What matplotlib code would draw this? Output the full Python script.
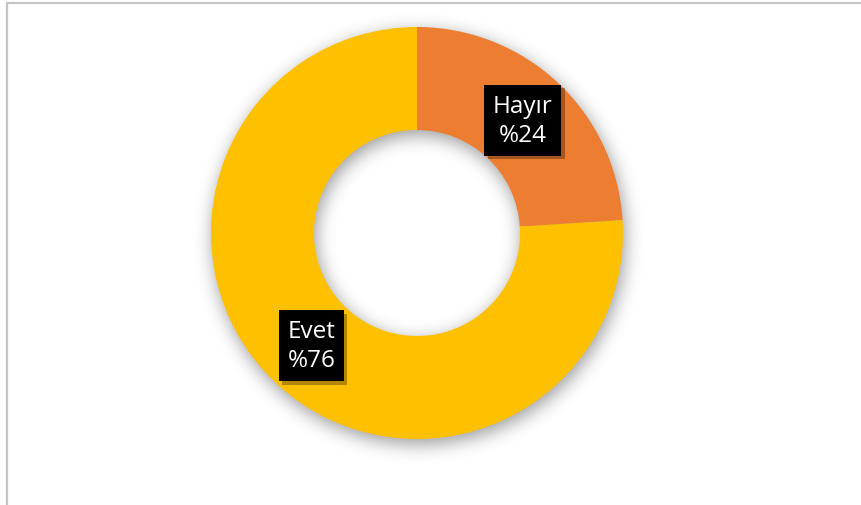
import numpy as np
import matplotlib
matplotlib.use("Agg")
import matplotlib.pyplot as plt
from matplotlib import patheffects

# ---- data ----
labels = ["Hayır", "Evet"]
values = [24, 76]
colors = ["#ED7D31", "#FFC000"]

W, H = 862, 506
cx, cy_img = 417, 234
r_out, r_in = 206, 103

fig = plt.figure(figsize=(W / 100, H / 100), dpi=100)
ax = fig.add_axes([0, 0, 1, 1])
ax.set_xlim(0, W)
ax.set_ylim(0, H)
ax.axis("off")

# ---- soft shadow under the ring ----
def blur(img, sigma):
    k = int(3 * sigma)
    xs = np.arange(-k, k + 1)
    g = np.exp(-xs ** 2 / (2 * sigma ** 2))
    g /= g.sum()
    img = np.apply_along_axis(lambda m: np.convolve(m, g, mode="same"), 0, img)
    img = np.apply_along_axis(lambda m: np.convolve(m, g, mode="same"), 1, img)
    return img

yy, xx = np.mgrid[0:H, 0:W] + 0.5
d = np.hypot(xx - (cx + 2), yy - (cy_img + 5))
ring = ((d <= r_out) & (d >= r_in)).astype(float)
sh = blur(ring, 9) * 0.40
rgba = np.zeros((H, W, 4))
rgba[..., 3] = sh
ax.imshow(rgba, extent=(0, W, 0, H), origin="upper", zorder=1, interpolation="bilinear")

# ---- donut ----
cy = H - cy_img
wedges, _ = ax.pie(values, colors=colors, startangle=90, counterclock=False,
                   radius=r_out, center=(cx, cy),
                   wedgeprops=dict(width=r_out - r_in, edgecolor="none", zorder=2))
ax.set_xlim(0, W)
ax.set_ylim(0, H)
ax.set_aspect("auto")

# ---- labels ----
r_mid = (r_out + r_in) / 2
for w, lab, v in zip(wedges, labels, values):
    ang = np.deg2rad((w.theta1 + w.theta2) / 2)
    x = cx + r_mid * np.cos(ang)
    y = cy + r_mid * np.sin(ang)
    t = ax.text(x, y, f"{lab}\n%{v}", ha="center", va="center", color="white",
                fontsize=17.5, family=["Open Sans", "DejaVu Sans"], linespacing=1.3,
                zorder=5,
                bbox=dict(boxstyle="square,pad=0.36", facecolor="black", edgecolor="none"))
    t.get_bbox_patch().set_path_effects([
        patheffects.SimplePatchShadow(offset=(2.5, -2.5), shadow_rgbFace="black", alpha=0.3),
        patheffects.Normal()])

# ---- frame (partially visible) ----
ax.plot([7, 7], [0, H - 3.5], color="#c4c4c4", lw=1.6, solid_capstyle="butt", zorder=6)
ax.plot([6.2, W], [H - 3.5, H - 3.5], color="#c4c4c4", lw=1.6, solid_capstyle="butt", zorder=6)

fig.savefig("out.png", dpi=100)
